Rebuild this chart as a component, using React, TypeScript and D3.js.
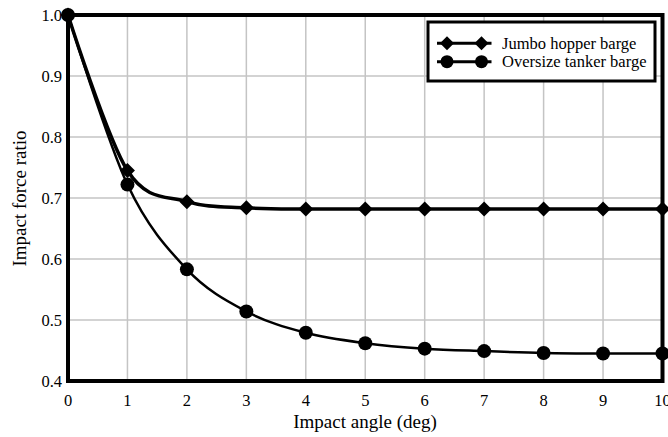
import React from "react";
import * as d3 from "d3";

const angles = [0, 1, 2, 3, 4, 5, 6, 7, 8, 9, 10];
const jumboHopper = [1.0, 0.745, 0.694, 0.684, 0.682, 0.682, 0.682, 0.682, 0.682, 0.682, 0.682];
const oversizeTanker = [1.0, 0.722, 0.583, 0.514, 0.479, 0.462, 0.453, 0.449, 0.446, 0.445, 0.445];
const xTicks = [0, 1, 2, 3, 4, 5, 6, 7, 8, 9, 10];
const yTicks = [0.4, 0.5, 0.6, 0.7, 0.8, 0.9, 1.0];
const seriesNames = ["Jumbo hopper barge", "Oversize tanker barge"];

const W = 668;
const H = 437;
const left = 68;
const right = 662.5;
const top = 15;
const bottom = 381;
const font = "'Liberation Serif', 'Times New Roman', serif";

export default function App() {
  const x = d3.scaleLinear().domain([0, 10]).range([left, right]);
  const y = d3.scaleLinear().domain([0.4, 1.0]).range([bottom, top]);
  const line = d3
    .line<number>()
    .x((_, i) => x(angles[i]))
    .y((d) => y(d))
    .curve(d3.curveCardinal.tension(0));

  const diamond = (cx: number, cy: number, r: number) =>
    `M${cx},${cy - r}L${cx + r},${cy}L${cx},${cy + r}L${cx - r},${cy}Z`;

  const legX = 428;
  const legY = 22;
  const rows = [43.3, 61.7];

  return (
    <svg width={W} height={H} style={{ position: "absolute", left: 0, top: 0 }}>
      <rect width={W} height={H} fill="white" />
      {xTicks.slice(1, -1).map((t) => (
        <line key={"gx" + t} x1={x(t)} x2={x(t)} y1={top} y2={bottom} stroke="#c4c4c4" strokeWidth={1.5} />
      ))}
      {yTicks.slice(1, -1).map((t) => (
        <line key={"gy" + t} x1={left} x2={right} y1={y(t)} y2={y(t)} stroke="#c4c4c4" strokeWidth={1.5} />
      ))}
      <rect x={left} y={top} width={right - left} height={bottom - top} fill="none" stroke="black" strokeWidth={4} />
      {xTicks.map((t) => (
        <text key={"tx" + t} x={x(t)} y={406} textAnchor="middle" fontFamily={font} fontSize={16.5}>
          {t}
        </text>
      ))}
      {yTicks.map((t) => (
        <text key={"ty" + t} x={62} y={y(t) + 6} textAnchor="end" fontFamily={font} fontSize={16.5}>
          {t.toFixed(1)}
        </text>
      ))}
      <text x={365} y={428} textAnchor="middle" fontFamily={font} fontSize={19}>
        Impact angle (deg)
      </text>
      <text
        transform={`translate(26,198.5) rotate(-90)`}
        textAnchor="middle"
        fontFamily={font}
        fontSize={19}
      >
        Impact force ratio
      </text>

      <path d={line(jumboHopper) || ""} fill="none" stroke="black" strokeWidth={3.5} />
      <path d={line(oversizeTanker) || ""} fill="none" stroke="black" strokeWidth={2.5} />
      {jumboHopper.map((v, i) => (
        <path key={"jd" + i} d={diamond(x(angles[i]), y(v), 7.5)} fill="black" />
      ))}
      {oversizeTanker.map((v, i) => (
        <circle key={"tc" + i} cx={x(angles[i])} cy={y(v)} r={7} fill="black" />
      ))}

      <rect x={legX} y={legY} width={655 - legX} height={81 - legY} fill="white" stroke="black" strokeWidth={3} />
      {seriesNames.map((name, i) => (
        <g key={name}>
          <line x1={437} x2={491.5} y1={rows[i]} y2={rows[i]} stroke="black" strokeWidth={3} />
          {i === 0 ? (
            <>
              <path d={diamond(447, rows[i], 7)} fill="black" />
              <path d={diamond(481.5, rows[i], 7)} fill="black" />
            </>
          ) : (
            <>
              <circle cx={447} cy={rows[i]} r={6.5} fill="black" />
              <circle cx={481.5} cy={rows[i]} r={6.5} fill="black" />
            </>
          )}
          <text x={502} y={rows[i] + 5.5} fontFamily={font} fontSize={16.5}>
            {name}
          </text>
        </g>
      ))}
    </svg>
  );
}
